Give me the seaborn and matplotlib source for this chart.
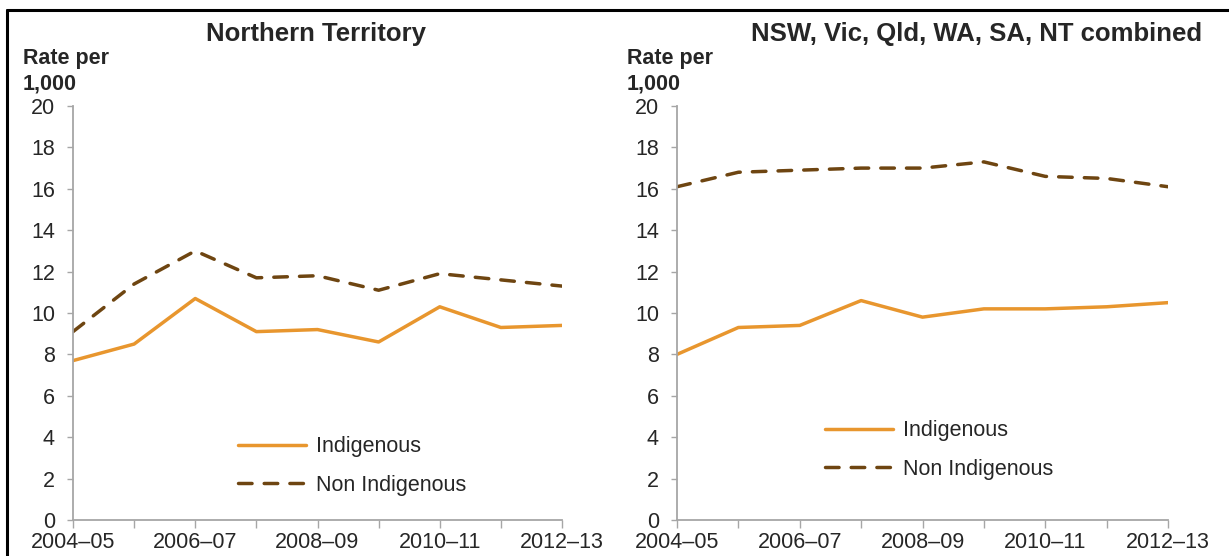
import matplotlib
matplotlib.use("Agg")
import matplotlib.pyplot as plt
import pandas as pd
import seaborn as sns
from matplotlib.lines import Line2D

# Financial years on the x axis
years = ["2004–05", "2005–06", "2006–07", "2007–08", "2008–09",
         "2009–10", "2010–11", "2011–12", "2012–13"]

# Rate per 1,000 — Northern Territory
nt_indigenous = [7.7, 8.5, 10.7, 9.1, 9.2, 8.6, 10.3, 9.3, 9.4]
nt_non_indigenous = [9.1, 11.4, 13.0, 11.7, 11.8, 11.1, 11.9, 11.6, 11.3]

# Rate per 1,000 — NSW, Vic, Qld, WA, SA, NT combined
comb_indigenous = [8.0, 9.3, 9.4, 10.6, 9.8, 10.2, 10.2, 10.3, 10.5]
comb_non_indigenous = [16.1, 16.8, 16.9, 17.0, 17.0, 17.3, 16.6, 16.5, 16.1]

series_names = ["Indigenous", "Non Indigenous"]
panel_titles = ["Northern Territory", "NSW, Vic, Qld, WA, SA, NT combined"]
y_label = "Rate per\n1,000"
y_ticks = [0, 2, 4, 6, 8, 10, 12, 14, 16, 18, 20]

sns.set_style("white")
plt.rcParams["font.family"] = ["Liberation Sans", "DejaVu Sans"]

W, H = 1229, 556
fig = plt.figure(figsize=(W / 100, H / 100), dpi=100)


def fx(px):
    return px / W


def fy(py):
    return 1 - py / H


def build_frame(indig, non_indig):
    rows = []
    for name, vals in zip(series_names, [indig, non_indig]):
        for i, v in enumerate(vals):
            rows.append({"pos": i, "year": years[i], "rate": v, "group": name})
    return pd.DataFrame(rows)


panels = [
    (build_frame(nt_indigenous, nt_non_indigenous), 73, 562, (238, 466), 316),
    (build_frame(comb_indigenous, comb_non_indigenous), 677, 1168, (825, 450), 977),
]

palette = {"Indigenous": "#E8962E", "Non Indigenous": "#6E4511"}
dashes = {"Indigenous": "", "Non Indigenous": (3.9, 3.5)}
grey = "#A6A6A6"
lw = 2.5
fs = 15.5

top_px, bot_px = 106, 520
for k, (df, x0, x1, (lx, ly), title_cx) in enumerate(panels):
    ax = fig.add_axes([fx(x0), fy(bot_px), fx(x1 - x0), (bot_px - top_px) / H])
    sns.lineplot(data=df, x="pos", y="rate", hue="group", style="group",
                 palette=palette, dashes=dashes, linewidth=lw, ax=ax,
                 legend=False)
    for ln in ax.get_lines():
        ln.set_dash_capstyle("round")
        ln.set_solid_capstyle("round")
    ax.set_xlim(0, len(years) - 1)
    ax.set_ylim(0, 20)
    ax.set_yticks(y_ticks)
    ax.set_yticklabels([str(t) for t in y_ticks])
    ax.set_xticks(range(len(years)))
    ax.set_xticklabels([y if i % 2 == 0 else "" for i, y in enumerate(years)])
    ax.set_xlabel("")
    ax.set_ylabel("")
    for side in ["top", "right"]:
        ax.spines[side].set_visible(False)
    for side in ["left", "bottom"]:
        ax.spines[side].set_color(grey)
        ax.spines[side].set_linewidth(1.3)
    ax.tick_params(axis="y", direction="out", length=4, width=1.0, color=grey,
                   pad=9, labelsize=fs, left=True)
    ax.tick_params(axis="x", direction="out", length=6, width=1.0, color=grey,
                   pad=3, labelsize=fs, bottom=True)
    ax.patch.set_alpha(0)

    handles = [
        Line2D([], [], color=palette["Indigenous"], lw=lw, solid_capstyle="round"),
        Line2D([], [], color=palette["Non Indigenous"], lw=lw,
               dashes=dashes["Non Indigenous"], dash_capstyle="round"),
    ]
    ax.legend(handles, series_names, loc="center left",
              bbox_to_anchor=((lx - x0) / (x1 - x0), (bot_px - ly) / (bot_px - top_px)),
              frameon=False, fontsize=fs, handlelength=3.15, handletextpad=0.45,
              labelspacing=0.82, borderpad=0, borderaxespad=0)

    fig.text(fx(title_cx), fy(34), panel_titles[k], ha="center", va="center",
             fontsize=18.5, fontweight="bold")
    fig.text(fx(x0 - 50), fy(48), y_label, ha="left", va="top",
             fontsize=fs, fontweight="bold", linespacing=1.3)

# Frame lines along the top and left edges
fig.add_artist(Line2D([fx(7), 1], [fy(10), fy(10)], color="black", lw=2.2))
fig.add_artist(Line2D([fx(7), fx(7)], [0, fy(10)], color="black", lw=2.2))

fig.savefig("out.png", dpi=100)
